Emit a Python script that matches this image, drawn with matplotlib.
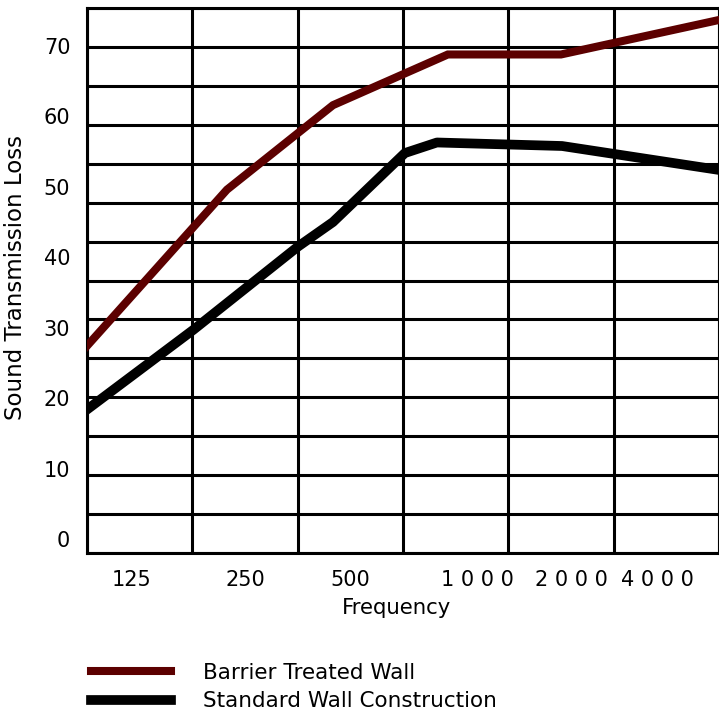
import numpy as np
import matplotlib
matplotlib.use("Agg")
import matplotlib.pyplot as plt
from matplotlib.ticker import NullFormatter
from matplotlib.transforms import ScaledTranslation

# octave bands (Hz) shown on the x axis
bands = [125, 250, 500, 1000, 2000, 4000]
band_labels = ["125", "250", "500", "1 0 0 0", "2 0 0 0", "4 0 0 0"]

# sound transmission loss
barrier_freq = [88, 222, 446, 950, 2000, 5657]
barrier_stl = [27.3, 49.6, 61.6, 68.8, 68.8, 73.7]

standard_freq = [88, 178, 354, 446, 716, 884, 2014, 5657]
standard_stl = [18.3, 29.7, 41.5, 45.0, 54.8, 56.3, 55.8, 52.4]

y_ticks = [0, 10, 20, 30, 40, 50, 60, 70]

barrier_color = "#5c0000"
# the original labels are not quite centred on their bands (pixels)
label_nudge = [-8, 0, 0, 22, 10, -9]

fig = plt.figure(figsize=(7.19, 7.13), dpi=100)
ax = fig.add_axes([87 / 719, 1 - 553 / 713, 632 / 719, 545 / 713])

ax.plot(barrier_freq, barrier_stl, color=barrier_color, lw=5.8,
        solid_joinstyle="miter", label="Barrier Treated Wall", zorder=3)
ax.plot(standard_freq, standard_stl, color="black", lw=7.0,
        solid_joinstyle="round", label="Standard Wall Construction", zorder=3)

ax.set_xscale("log", base=2)
lo, hi = bands[0] / np.sqrt(2), bands[-1] * np.sqrt(2)
ax.set_xlim(lo, hi)
ax.set_ylim(-2.0, 75.4)

# labels at band centres, grid lines on band edges
ax.set_xticks(bands)
ax.set_xticklabels(band_labels)
ax.set_xticks([b / np.sqrt(2) for b in bands] + [hi], minor=True)
ax.xaxis.set_minor_formatter(NullFormatter())
ax.set_yticks(y_ticks)
ax.set_yticks(np.linspace(-2.0, 75.4, 15), minor=True)
ax.yaxis.set_minor_formatter(NullFormatter())

ax.grid(False)
ax.grid(which="minor", color="black", lw=2.2)
ax.tick_params(which="both", length=0)
ax.tick_params(axis="y", labelsize=15, pad=12)
ax.tick_params(axis="x", labelsize=15, pad=12)
for s in ax.spines.values():
    s.set_linewidth(2.2)

for lbl, dx in zip(ax.xaxis.get_majorticklabels(), label_nudge):
    lbl.set_transform(lbl.get_transform() +
                      ScaledTranslation(dx / 100, 0, fig.dpi_scale_trans))

ax.set_ylabel("Sound Transmission Loss", fontsize=16.5)
ax.yaxis.set_label_coords(-0.095, 0.505)
ax.set_xlabel("Frequency", fontsize=15.3)
ax.xaxis.set_label_coords(0.49, -0.083)

fig.legend(loc="center left", bbox_to_anchor=(91 / 719, 1 - 687 / 713),
           frameon=False, fontsize=15.5, handlelength=3.7, handletextpad=1.5,
           labelspacing=0.4, borderpad=0, borderaxespad=0)

fig.savefig("out.png", dpi=100)
